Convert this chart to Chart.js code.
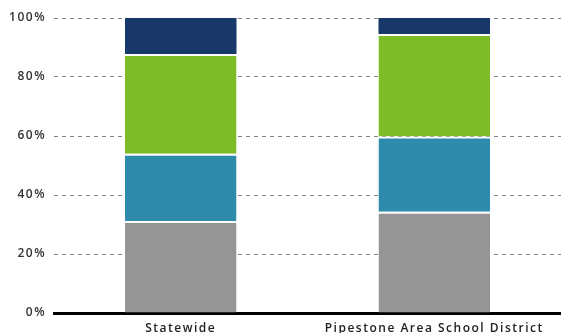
<!DOCTYPE html>
<html>
<head>
<meta charset="utf-8">
<script src="https://cdn.jsdelivr.net/npm/chart.js@4/dist/chart.umd.min.js"></script>
<style>
  html, body { margin: 0; padding: 0; background: #fff; }
  #wrap { width: 561px; height: 333px; }
</style>
</head>
<body>
<div id="wrap"><canvas id="grafico"></canvas></div>
<script>
// Datos
const categorias = ["Statewide", "Pipestone Area School District"];
const serieGris = [31.2, 34.3];
const serieAzul = [22.8, 25.5];
const serieVerde = [33.8, 34.8];
const serieMarino = [12.2, 5.4];
const ticksY = [0, 20, 40, 60, 80, 100];

// Colores
const colores = ["#959595", "#2e8bab", "#7dbb27", "#18386a"];

function crearSerie(datos, color, linea) {
    return {
        data: datos,
        backgroundColor: color,
        borderColor: "#ffffff",
        borderWidth: { top: linea, right: 0, bottom: 0, left: 0 },
        borderSkipped: false,
        barPercentage: 0.88,
        categoryPercentage: 0.5,
    };
}

// Espaciado de letras como en el original
const espaciado = {
    id: "espaciado",
    beforeDraw(chart) {
        chart.ctx.letterSpacing = "1.5px";
    },
};

const ctx = document.getElementById("grafico");
new Chart(ctx, {
    type: "bar",
    data: {
        labels: categorias,
        datasets: [
            crearSerie(serieGris, colores[0], 2),
            crearSerie(serieAzul, colores[1], 2),
            crearSerie(serieVerde, colores[2], 2),
            crearSerie(serieMarino, colores[3], 0),
        ],
    },
    options: {
        responsive: true,
        maintainAspectRatio: false,
        animation: false,
        layout: { padding: { top: 18, right: 0, bottom: 0, left: 0 } },
        plugins: {
            legend: { display: false },
            tooltip: { enabled: false },
        },
        scales: {
            x: {
                stacked: true,
                grid: { display: false },
                border: { display: true, color: "#000000", width: 3 },
                ticks: {
                    color: "#222222",
                    font: { family: "Open Sans", size: 12, weight: "600" },
                    padding: 0,
                    maxRotation: 0,
                    autoSkip: false,
                },
                afterFit: (scale) => { scale.height = 20; },
            },
            y: {
                stacked: true,
                min: 0,
                max: 100,
                afterBuildTicks: (scale) => {
                    scale.ticks = ticksY.map((v) => ({ value: v }));
                },
                grid: {
                    color: (c) => (c.tick && c.tick.value === 0 ? "rgba(0,0,0,0)" : "#7f8888"),
                    lineWidth: 1,
                    drawTicks: false,
                },
                border: { display: false, dash: [4, 4] },
                ticks: {
                    color: "#333333",
                    font: { family: "Open Sans", size: 12, weight: "600" },
                    padding: 8,
                    callback: (v) => v + "%",
                },
                afterFit: (scale) => { scale.width = 54; },
            },
        },
    },
    plugins: [espaciado],
});
</script>
</body>
</html>
